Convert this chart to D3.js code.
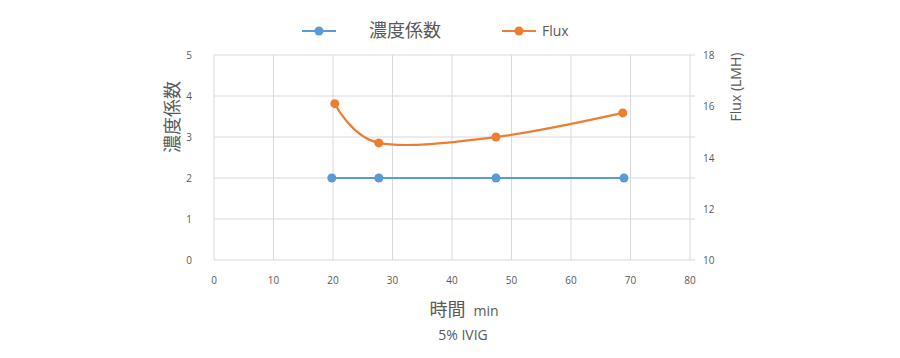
<!DOCTYPE html>
<html><head><meta charset="utf-8">
<script src="https://cdn.jsdelivr.net/npm/d3@7"></script>
<style>body{margin:0;background:#fff;}svg{display:block;}</style>
</head><body>
<svg id="c" width="900" height="358"></svg>
<script>
const xTicks = [0,10,20,30,40,50,60,70,80];
const yLeftTicks = [0,1,2,3,4,5];
const yRightTicks = [10,12,14,16,18];
const concTime = [19.8, 27.7, 47.4, 68.9];
const concValues = [2, 2, 2, 2];
const fluxTime = [20.3, 27.7, 47.4, 68.7];
const fluxValues = [16.1, 14.57, 14.8, 15.74];
const seriesNames = ["濃度係数", "Flux"];
const colors = ["#5b9bd5", "#ed7d31"];

const svg = d3.select("#c");
const L = 214, R = 690, T = 55, B = 260;
const x = d3.scaleLinear().domain([0,80]).range([L,R]);
const yl = d3.scaleLinear().domain([0,5]).range([B,T]);
const yr = d3.scaleLinear().domain([10,18]).range([B,T]);
const font = "'Open Sans', 'Noto Sans CJK JP', sans-serif";
const grid = "#d9d9d9", txt = "#595959";

// grid
svg.append("g").selectAll("line").data(yLeftTicks).join("line")
  .attr("x1", L).attr("x2", R+5).attr("y1", d=>yl(d)).attr("y2", d=>yl(d))
  .attr("stroke", grid).attr("stroke-width", 1);
svg.append("g").selectAll("line").data(xTicks).join("line")
  .attr("x1", d=>x(d)).attr("x2", d=>x(d)).attr("y1", T).attr("y2", B)
  .attr("stroke", grid).attr("stroke-width", 1);

// left tick labels
svg.append("g").selectAll("text").data(yLeftTicks).join("text")
  .attr("x", 189).attr("y", d=>yl(d)+4).attr("text-anchor","middle")
  .attr("font-family", font).attr("font-size", 10).attr("fill", txt).text(d=>d);
// right tick labels
svg.append("g").selectAll("text").data(yRightTicks).join("text")
  .attr("x", 703).attr("y", d=>yr(d)+4).attr("text-anchor","start")
  .attr("font-family", font).attr("font-size", 10).attr("fill", txt).text(d=>d);
// x tick labels
svg.append("g").selectAll("text").data(xTicks).join("text")
  .attr("x", d=>x(d)).attr("y", 284).attr("text-anchor","middle")
  .attr("font-family", font).attr("font-size", 10).attr("fill", txt).text(d=>d);

// axis titles
svg.append("text").attr("transform","translate(179,117) rotate(-90)").attr("text-anchor","middle")
  .attr("font-family", font).attr("font-size", 18).attr("fill", txt).text("濃度係数");
svg.append("text").attr("transform","translate(741,87) rotate(-90)").attr("text-anchor","middle")
  .attr("font-family", font).attr("font-size", 14).attr("fill", txt).text("Flux (LMH)");
const xt = svg.append("text").attr("x", 464).attr("y", 316).attr("text-anchor","middle")
  .attr("font-family", font).attr("fill", txt);
xt.append("tspan").attr("font-size", 18).text("時間");
xt.append("tspan").attr("font-size", 14).attr("dx", 8).text("min");
svg.append("text").attr("x", 463).attr("y", 340).attr("text-anchor","middle")
  .attr("font-family", font).attr("font-size", 14).attr("fill", txt).text("5% IVIG");

// series
const concData = concTime.map((t,i)=>[t, concValues[i]]);
const fluxData = fluxTime.map((t,i)=>[t, fluxValues[i]]);
svg.append("path").datum(concData)
  .attr("d", d3.line().x(d=>x(d[0])).y(d=>yl(d[1])))
  .attr("fill","none").attr("stroke", colors[0]).attr("stroke-width", 2.2);
svg.append("path").datum(fluxData)
  .attr("d", d3.line().x(d=>x(d[0])).y(d=>yr(d[1])).curve(d3.curveCardinal.tension(0)))
  .attr("fill","none").attr("stroke", colors[1]).attr("stroke-width", 2.2);
svg.append("g").selectAll("circle").data(concData).join("circle")
  .attr("cx", d=>x(d[0])).attr("cy", d=>yl(d[1])).attr("r", 4.5).attr("fill", colors[0]);
svg.append("g").selectAll("circle").data(fluxData).join("circle")
  .attr("cx", d=>x(d[0])).attr("cy", d=>yr(d[1])).attr("r", 4.5).attr("fill", colors[1]);

// legend
const leg = [{x:302, tx:369, fs:18}, {x:502, tx:542, fs:14}];
leg.forEach((g,i)=>{
  svg.append("line").attr("x1", g.x).attr("x2", g.x+34).attr("y1", 31).attr("y2", 31)
    .attr("stroke", colors[i]).attr("stroke-width", 2.2);
  svg.append("circle").attr("cx", g.x+17).attr("cy", 31).attr("r", 4.5).attr("fill", colors[i]);
  svg.append("text").attr("x", g.tx).attr("y", 31 + g.fs*0.36).attr("font-family", font)
    .attr("font-size", g.fs).attr("fill", txt).text(seriesNames[i]);
});
</script>
</body></html>
